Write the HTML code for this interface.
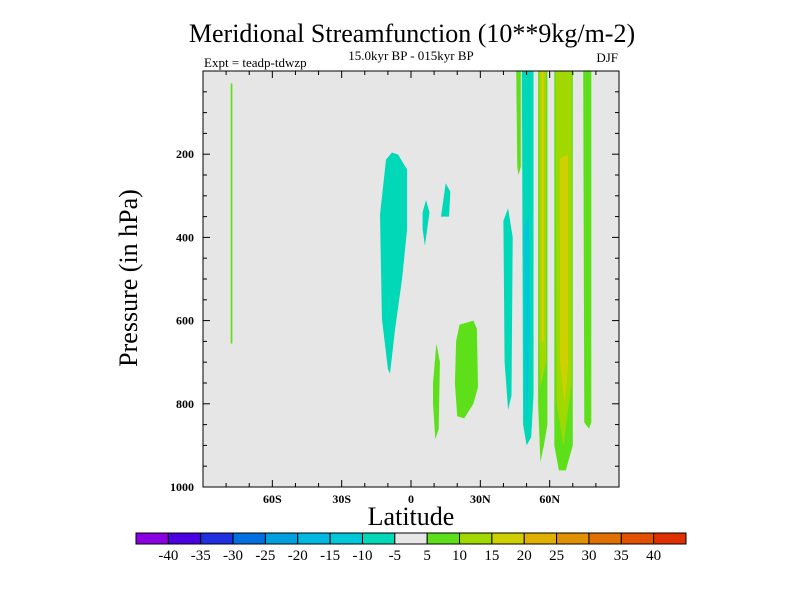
<!DOCTYPE html>
<html><head><meta charset="utf-8"><style>
body{margin:0;background:#fff}
svg{display:block;font-family:"Liberation Serif",serif}
</style></head><body>
<svg id="c" width="800" height="600"></svg>
<script>
const latTicks=[-60,-30,0,30,60];
const latLabels=["60S","30S","0","30N","60N"];
const presTicks=[200,400,600,800,1000];
const cbLevels=[-40,-35,-30,-25,-20,-15,-10,-5,5,10,15,20,25,30,35,40];
const cbColors=['#8a00e0','#4a00e0','#2030e0','#0070e0','#00a0e0','#00b8e0','#00c8d8','#00d8b8','#e6e6e6','#5de01a','#a0d800','#d0d000','#e0b000','#e09000','#e07000','#e05000','#e03000'];
// contour regions: value, lat vertices, pressure vertices
const regionValues=[7,-7,-7,-7,7,7,-7,7,-7,-12,7,12,17,7,12,17,7];
const regionLats=[
[-78,-77.3,-77.3,-78],
[-13.4,-10.8,-8.2,-5.6,-1.7,-1.7,-3.9,-6.9,-9.1,-10,-12.6,-13.4],
[5,6.5,8,7,6,5],
[13,15,17,16.5,13.5],
[9.5,11,12.5,12,10.5,9.5],
[19.5,21,27,28.5,29,27,23,20,19],
[40,42,44,43.5,42,40.5],
[45.5,47.5,47.5,46.5,46],
[48,53,53,52,50,48.5],
[49,51,51.5,50,49.5],
[55,59,59,57.5,56,55],
[55.5,58.5,58.5,56,55.5],
[56.3,57.6,57.6,56.3],
[62,70,70,67,64,62],
[62.6,69.5,69.5,66,63],
[64.5,68,68,66.5,64.5],
[74.5,78,78,77,75]
];
const regionPres=[
[30,30,655,655],
[345,213,196,201,237,381,501,620,728,716,596,345],
[340,310,340,380,420,380],
[350,270,290,350,350],
[750,655,700,860,885,800],
[650,610,600,620,760,800,835,830,750],
[360,330,400,780,815,700],
[0,0,230,250,230],
[0,0,780,880,900,850],
[380,340,600,870,700],
[0,0,850,900,940,800],
[0,0,700,760,650],
[0,0,650,650],
[0,0,900,960,960,900],
[0,0,750,900,800],
[210,200,700,800,700],
[0,0,845,860,845]
];
const svg=document.getElementById('c');const NS='http://www.w3.org/2000/svg';
function mk(t,a,p){const e=document.createElementNS(NS,t);for(const k in a)e.setAttribute(k,a[k]);(p||svg).appendChild(e);return e;}
const X0=203,X1=619,Y0=71,Y1=487;
const xs=l=>X0+(l+90)/180*(X1-X0);
const ys=p=>Y0+p/1000*(Y1-Y0);
function colorFor(v){let i=0;while(i<cbLevels.length&&v>cbLevels[i])i++;return cbColors[i];}
let bg=mk('rect',{x:X0,y:Y0,width:X1-X0,height:Y1-Y0,fill:'#e6e6e6'});


for(let i=0;i<regionValues.length;i++){
 const pts=regionLats[i].map((l,j)=>xs(l).toFixed(1)+','+ys(regionPres[i][j]).toFixed(1)).join(' ');
 const pg=mk('polygon',{points:pts,fill:colorFor(regionValues[i])});
 
 
}
mk('rect',{x:X0,y:Y0,width:X1-X0,height:Y1-Y0,fill:'none',stroke:'#000','stroke-width':1});
for(let l=-80;l<=80;l+=10){const x=xs(l),len=latTicks.includes(l)?7:4;
 mk('line',{x1:x,x2:x,y1:Y1,y2:Y1-len,stroke:'#000'});mk('line',{x1:x,x2:x,y1:Y0,y2:Y0+len,stroke:'#000'});}
for(let p=50;p<1000;p+=50){const y=ys(p),len=presTicks.includes(p)?7:4;
 mk('line',{x1:X0,x2:X0+len,y1:y,y2:y,stroke:'#000'});mk('line',{x1:X1,x2:X1-len,y1:y,y2:y,stroke:'#000'});}
latTicks.forEach((l,i)=>{const t=mk('text',{x:xs(l),y:503,'text-anchor':'middle','font-size':12,'font-weight':'bold'});t.textContent=latLabels[i];
 
 });
presTicks.forEach(p=>{const t=mk('text',{x:194,y:ys(p)+4,'text-anchor':'end','font-size':12,'font-weight':'bold'});t.textContent=p;
 
 });
function txt(s,a,name){const t=mk('text',a);t.textContent=s;
 
 return t;}
txt('Meridional Streamfunction (10**9kg/m-2)',{x:412,y:42,'text-anchor':'middle','font-size':26},'chart-title');
txt('15.0kyr BP - 015kyr BP',{x:411,y:60,'text-anchor':'middle','font-size':13},'subtitle');
txt('Expt = teadp-tdwzp',{x:204,y:67,'font-size':13},'experiment-label');
txt('DJF',{x:618,y:62,'text-anchor':'end','font-size':13},'season-label');
txt('Latitude',{x:411,y:525,'text-anchor':'middle','font-size':26},'x-axis-title');
txt('Pressure (in hPa)',{x:0,y:0,'text-anchor':'middle','font-size':26,transform:'translate(137,278) rotate(-90)'},'y-axis-title');
const CB0=136,CB1=686,cw=(CB1-CB0)/cbColors.length;
cbColors.forEach((c,i)=>{const r=mk('rect',{x:CB0+i*cw,y:533,width:cw,height:11,fill:c,stroke:'#000','stroke-width':1});
 
 });
cbLevels.forEach((v,i)=>{const t=mk('text',{x:CB0+(i+1)*cw,y:560,'text-anchor':'middle','font-size':15});t.textContent=v;
 
 });
</script>
</body></html>
